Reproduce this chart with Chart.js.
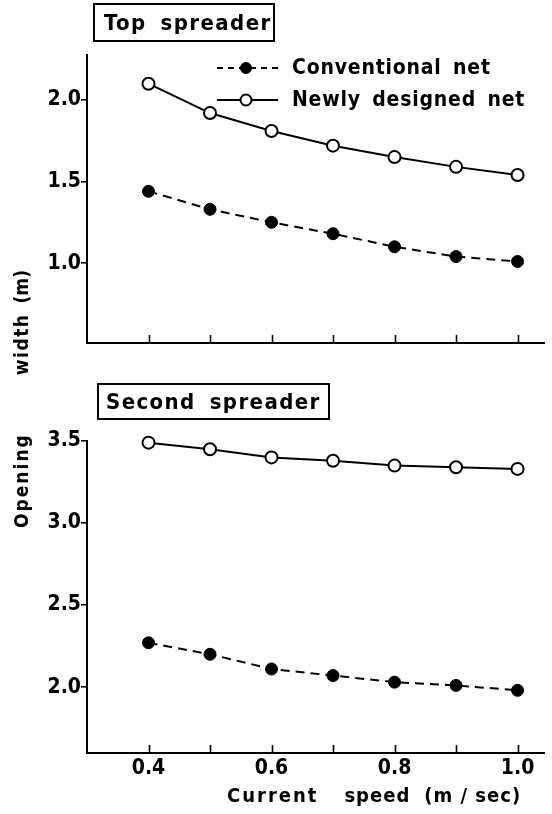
<!DOCTYPE html>
<html>
<head>
<meta charset="utf-8">
<script src="https://cdn.jsdelivr.net/npm/chart.js@4/dist/chart.umd.min.js"></script>
<style>
  html, body { margin: 0; padding: 0; background: #fff; }
  #wrap { position: relative; width: 552px; height: 814px; overflow: hidden;
          font-family: "DejaVu Sans Condensed", "DejaVu Sans", sans-serif; font-weight: bold; color: #000; }
  canvas { position: absolute; left: 0; }
  #c-top { top: 0; }
  #c-bot { top: 360px; }
  .txt { position: absolute; white-space: nowrap; line-height: 1; }
  .panel { position: absolute; box-sizing: border-box; border: 2px solid #000;
           display: flex; align-items: center; font-size: 22px; letter-spacing: 1.4px; }
  .legend { font-size: 21px; letter-spacing: 0.8px; word-spacing: 4px; }
  #ytitle { left: 12px; top: 528px; font-size: 19px;
            transform: rotate(-90deg); transform-origin: 0 0; }
  #xtitle { left: 227px; top: 785px; font-size: 20px; letter-spacing: 1px; }
</style>
</head>
<body>
<div id="wrap">
  <canvas id="c-top" width="552" height="360"></canvas>
  <canvas id="c-bot" width="552" height="454"></canvas>

  <div class="panel" style="left:93px;top:3px;width:182px;height:39px;padding-left:9px;">Top<span style="margin-left:14px">spreader</span></div>
  <div class="panel" style="left:97px;top:383px;width:233px;height:37px;padding-left:7px;">Second<span style="margin-left:14px">spreader</span></div>

  <div class="txt legend" style="left:292px;top:57px;">Conventional net</div>
  <div class="txt legend" style="left:292px;top:89px;">Newly designed net</div>

  <div class="txt" id="ytitle"><span style="letter-spacing:2px">Opening</span><span style="margin-left:58px;letter-spacing:1.5px">width</span><span style="margin-left:10px">(m)</span></div>
  <div class="txt" id="xtitle"><span style="letter-spacing:2px">Current</span><span style="margin-left:26px">speed</span><span style="margin-left:14px">(m / sec)</span></div>
</div>

<script>
const speeds = [0.4, 0.5, 0.6, 0.7, 0.8, 0.9, 1.0];

const topConventional = [1.44, 1.33, 1.25, 1.18, 1.10, 1.04, 1.01];
const topNewDesign = [2.10, 1.92, 1.81, 1.72, 1.65, 1.59, 1.54];

const secondConventional = [2.27, 2.20, 2.11, 2.07, 2.03, 2.01, 1.98];
const secondNewDesign = [3.49, 3.45, 3.40, 3.38, 3.35, 3.34, 3.33];

const xTickValues = [0.4, 0.5, 0.6, 0.7, 0.8, 0.9, 1.0];
const xTickLabels = ["0.4", "", "0.6", "", "0.8", "", "1.0"];
const topYTicks = [1.0, 1.5, 2.0];
const topYLabels = ["1.0", "1.5", "2.0"];
const secondYTicks = [2.0, 2.5, 3.0, 3.5];
const secondYLabels = ["2.0", "2.5", "3.0", "3.5"];

const FONT = "'DejaVu Sans Condensed', 'DejaVu Sans', sans-serif";

function points(ys) {
  return speeds.map((x, i) => ({ x, y: ys[i] }));
}

function conventionalSet(ys) {
  return {
    label: "Conventional net",
    data: points(ys),
    borderColor: "#000",
    borderWidth: 2,
    borderDash: [9, 6],
    pointRadius: 6,
    pointBackgroundColor: "#000",
    pointBorderColor: "#000",
    pointBorderWidth: 1,
  };
}

function newDesignSet(ys) {
  return {
    label: "Newly designed net",
    data: points(ys),
    borderColor: "#000",
    borderWidth: 2,
    pointRadius: 6,
    pointBackgroundColor: "#fff",
    pointBorderColor: "#000",
    pointBorderWidth: 2,
  };
}

// tick marks on the x axis point up into the plot
const insideTicks = {
  id: "insideTicks",
  afterDraw(chart) {
    const xs = chart.scales.x;
    const ctx = chart.ctx;
    ctx.save();
    ctx.strokeStyle = "#000";
    ctx.lineWidth = 1.6;
    for (const v of xTickValues) {
      const px = Math.round(xs.getPixelForValue(v)) + 0.5;
      ctx.beginPath();
      ctx.moveTo(px, xs.top);
      ctx.lineTo(px, xs.top - 8);
      ctx.stroke();
    }
    ctx.restore();
  },
};

// little line+marker samples next to the legend text (top panel only)
const legendSamples = {
  id: "legendSamples",
  afterDraw(chart) {
    const ctx = chart.ctx;
    const rows = [{ ds: chart.data.datasets[0], y: 68 }, { ds: chart.data.datasets[1], y: 100 }];
    ctx.save();
    for (const r of rows) {
      ctx.strokeStyle = "#000";
      ctx.lineWidth = 2;
      ctx.setLineDash(r.ds.borderDash ? [6, 5] : []);
      ctx.beginPath();
      ctx.moveTo(217, r.y);
      ctx.lineTo(278, r.y);
      ctx.stroke();
      ctx.setLineDash([]);
      ctx.beginPath();
      ctx.arc(246, r.y, 5.5, 0, Math.PI * 2);
      ctx.fillStyle = r.ds.pointBackgroundColor;
      ctx.fill();
      ctx.lineWidth = r.ds.pointBorderWidth;
      ctx.stroke();
    }
    ctx.restore();
  },
};

function makeChart(canvas, datasets, o) {
  return new Chart(canvas, {
    type: "line",
    data: { datasets },
    options: {
      responsive: false,
      animation: false,
      devicePixelRatio: 1,
      clip: false,
      layout: { padding: { top: o.padTop, right: 0, bottom: 0, left: 0 } },
      plugins: { legend: { display: false }, tooltip: { enabled: false } },
      scales: {
        x: {
          type: "linear",
          min: 0.3,
          max: 1.043,
          afterBuildTicks: (s) => { s.ticks = xTickValues.map(v => ({ value: v })); },
          afterFit: (s) => { s.height = o.xHeight; },
          grid: { display: false, drawTicks: false },
          border: { display: true, color: "#000", width: 2 },
          ticks: {
            display: o.xLabels,
            autoSkip: false,
            maxRotation: 0,
            padding: 3,
            color: "#000",
            font: { family: FONT, size: 21, weight: "bold" },
            callback: (v, i) => xTickLabels[i],
          },
        },
        y: {
          min: o.yMin,
          max: o.yMax,
          afterBuildTicks: (s) => { s.ticks = o.yTicks.map(v => ({ value: v })); },
          afterFit: (s) => { s.width = 87; },
          grid: { drawOnChartArea: false, drawTicks: true, tickLength: 6, color: "#000", lineWidth: 1.6 },
          border: { display: true, color: "#000", width: 2 },
          ticks: {
            autoSkip: false,
            padding: 0,
            color: "#000",
            font: { family: FONT, size: 21, weight: "bold" },
            callback: (v, i) => o.yLabels[i],
          },
        },
      },
    },
    plugins: o.plugins,
  });
}

makeChart(document.getElementById("c-top"),
  [conventionalSet(topConventional), newDesignSet(topNewDesign)],
  { padTop: 55, xHeight: 17, xLabels: false, yMin: 0.51, yMax: 2.276,
    yTicks: topYTicks, yLabels: topYLabels, plugins: [insideTicks, legendSamples] });

makeChart(document.getElementById("c-bot"),
  [conventionalSet(secondConventional), newDesignSet(secondNewDesign)],
  { padTop: 81, xHeight: 61, xLabels: true, yMin: 1.598, yMax: 3.5,
    yTicks: secondYTicks, yLabels: secondYLabels, plugins: [insideTicks] });
</script>
</body>
</html>
